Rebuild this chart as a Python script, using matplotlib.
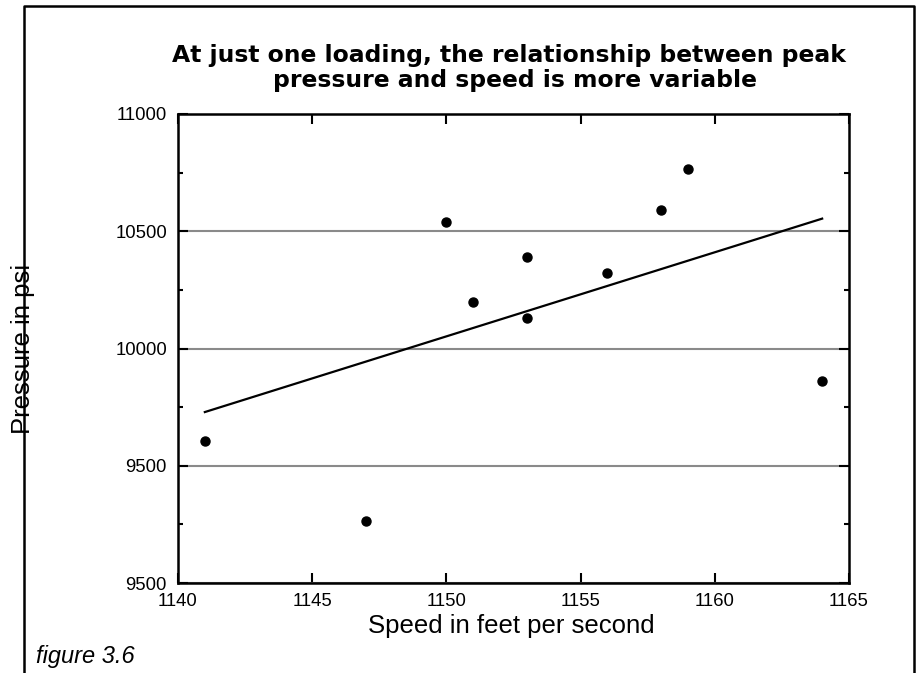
import matplotlib
matplotlib.use("Agg")
import matplotlib.pyplot as plt
from matplotlib.lines import Line2D
import numpy as np

# ---- data ----
speed = [1141, 1147, 1150, 1151, 1153, 1153, 1156, 1158, 1159, 1164]
pressure = [9605, 9265, 10540, 10200, 10390, 10130, 10320, 10590, 10765, 9860]

x_ticks = [1140, 1145, 1150, 1155, 1160, 1165]
x_tick_labels = ["1140", "1145", "1150", "1155", "1160", "1165"]
y_ticks = [9000, 9500, 10000, 10500, 11000]
y_tick_labels = ["9500", "9500", "10000", "10500", "11000"]
y_minor_ticks = [9250, 9750, 10250, 10750]

title_lines = ["At just one loading, the relationship between peak",
               "pressure and speed is more variable"]
x_label = "Speed in feet per second"
y_label = "Pressure in psi"
caption = "figure 3.6"

W, H = 919, 673
fig = plt.figure(figsize=(W / 100, H / 100), dpi=100)
fig.patch.set_facecolor("white")

def fx(px):
    return px / W

def fy(py):
    return 1 - py / H

ax = fig.add_axes([fx(178), fy(583), fx(849) - fx(178), fy(114) - fy(583)])

# regression line from the data
coef = np.polyfit(speed, pressure, 1)
xl = np.array([min(speed), max(speed)])
ax.plot(xl, np.polyval(coef, xl), color="black", lw=1.6, zorder=3)

ax.plot(speed, pressure, "o", color="black", ms=6.5, zorder=4)

ax.set_xlim(1140, 1165)
ax.set_ylim(9000, 11000)
ax.set_xticks(x_ticks)
ax.set_xticklabels(x_tick_labels)
ax.set_yticks(y_ticks)
ax.set_yticklabels(y_tick_labels)
ax.set_yticks(y_minor_ticks, minor=True)

for lab in ax.get_xticklabels() + ax.get_yticklabels():
    lab.set_fontfamily("Liberation Sans")
    lab.set_fontsize(13.3)

ax.tick_params(axis="both", which="major", direction="in", length=7.5, width=1.5,
               color="black", top=True, right=True)
ax.tick_params(axis="x", which="major", pad=7.5)
ax.tick_params(axis="y", which="major", pad=8)
ax.tick_params(axis="y", which="minor", direction="in", length=3.6, width=1.5,
               left=True, right=True)
ax.tick_params(axis="x", which="minor", bottom=False, top=False)

for s in ax.spines.values():
    s.set_linewidth(1.8)
    s.set_color("black")

ax.yaxis.grid(True, which="major", color="#8a8a8a", lw=1.5)
ax.set_axisbelow(True)

# axis labels
fig.text(fx(511), fy(633), x_label, family="Liberation Sans", fontsize=18.5,
         ha="center", va="baseline")
fig.text(fx(23), fy(348.5), y_label, family="Liberation Sans", fontsize=18.5,
         ha="center", va="center", rotation=90)

# title
fig.text(fx(509), fy(62), title_lines[0], family="DejaVu Sans", weight="bold",
         fontsize=16.9, ha="center", va="baseline")
fig.text(fx(515), fy(87), title_lines[1], family="DejaVu Sans", weight="bold",
         fontsize=16.9, ha="center", va="baseline")

# caption
fig.text(fx(36), fy(663), caption, family="Liberation Sans", style="italic",
         fontsize=17, ha="left", va="baseline")

# outer frame (open at bottom)
frame = Line2D([fx(24), fx(24), fx(914), fx(914)],
               [0, fy(6), fy(6), 0], transform=fig.transFigure,
               color="black", lw=1.8)
fig.add_artist(frame)

fig.savefig("out.png", dpi=100, facecolor="white")
